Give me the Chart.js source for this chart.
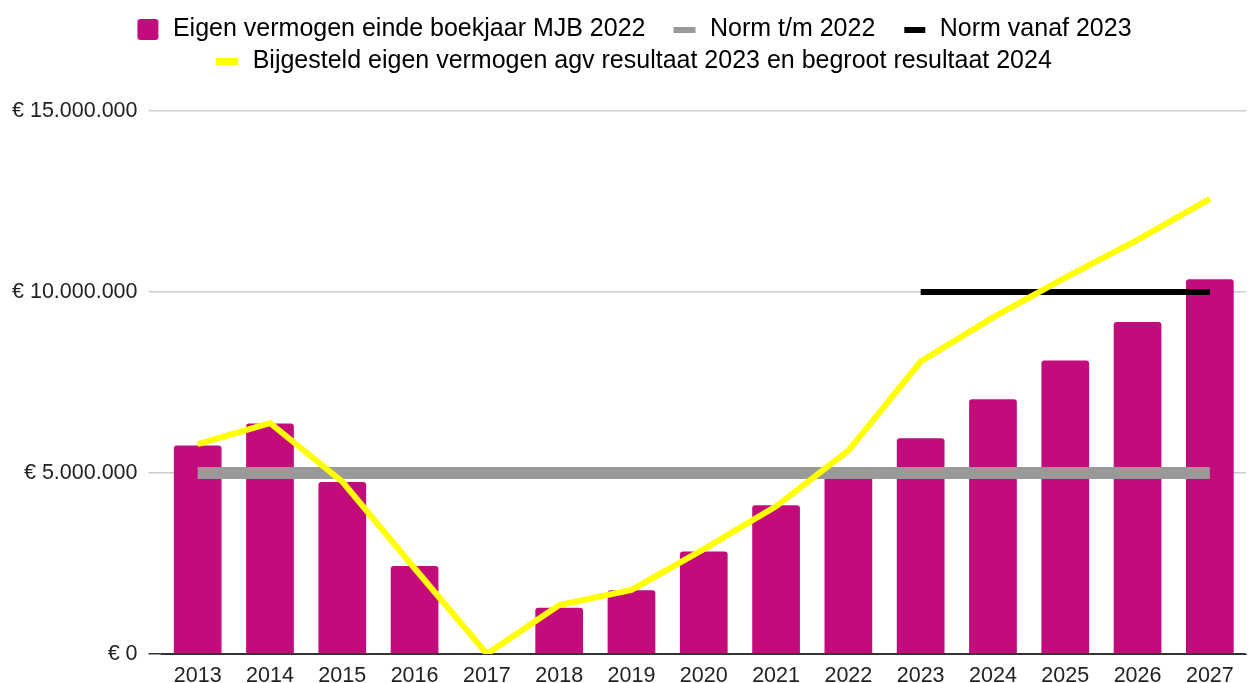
<!DOCTYPE html>
<html>
<head>
<meta charset="utf-8">
<script src="https://cdn.jsdelivr.net/npm/chart.js@4"></script>
<style>
  html, body { margin: 0; padding: 0; background: #fff; }
  #wrap { width: 1249px; height: 683px; }
</style>
</head>
<body>
<div id="wrap"><canvas id="chart"></canvas></div>
<script>
// Chart data
const years = ['2013', '2014', '2015', '2016', '2017', '2018', '2019', '2020', '2021', '2022', '2023', '2024', '2025', '2026', '2027'];
const eigenVermogen = [5760000, 6370000, 4750000, 2430000, 0, 1280000, 1760000, 2830000, 4110000, 5000000, 5960000, 7040000, 8110000, 9170000, 10350000];
const normTm2022 = [5000000, 5000000, 5000000, 5000000, 5000000, 5000000, 5000000, 5000000, 5000000, 5000000, 5000000, 5000000, 5000000, 5000000, 5000000];
const normVanaf2023 = [null, null, null, null, null, null, null, null, null, null, 10000000, 10000000, 10000000, 10000000, 10000000];
const bijgesteld = [5800000, 6380000, 4760000, 2370000, 0, 1350000, 1770000, 2900000, 4080000, 5620000, 8080000, 9300000, 10400000, 11440000, 12570000];
const yTicks = [0, 5000000, 10000000, 15000000];

const labelNames = [
  'Eigen vermogen einde boekjaar MJB 2022',
  'Norm t/m 2022',
  'Norm vanaf 2023',
  'Bijgesteld eigen vermogen agv resultaat 2023 en begroot resultaat 2024'
];

const colBar = '#c20c7c';
const colGray = '#999999';
const colBlack = '#000000';
const colYellow = '#ffff00';

// legend markers, drawn near the right side of a wide box
const BOX_W = 45;
function marker(w, h, color, r) {
  const c = document.createElement('canvas');
  c.width = BOX_W; c.height = h;
  const g = c.getContext('2d');
  g.fillStyle = color;
  g.beginPath();
  if (r) g.roundRect(BOX_W - 2 - w, 0, w, h, r); else g.rect(BOX_W - 2 - w, 0, w, h);
  g.fill();
  return c;
}
const markers = [
  marker(21, 21, colBar, 3),
  marker(22, 6, colGray),
  marker(21, 6, colBlack),
  marker(22, 7, colYellow)
];

const euro = v => '€ ' + v.toLocaleString('nl-NL');

// extra space under the legend
const legendMargin = {
  id: 'legendMargin',
  beforeInit(chart) {
    const fit = chart.legend.fit;
    chart.legend.fit = function () {
      fit.bind(chart.legend)();
      this.height += 27;
    };
  }
};

Chart.defaults.font.family = '"Liberation Sans", Arial, sans-serif';
Chart.defaults.color = '#222';

new Chart(document.getElementById('chart'), {
  data: {
    labels: years,
    datasets: [
      {
        type: 'bar',
        label: labelNames[0],
        data: eigenVermogen,
        backgroundColor: colBar,
        borderRadius: 3,
        categoryPercentage: 1,
        barPercentage: 0.66,
        order: 4
      },
      {
        type: 'line',
        label: labelNames[1],
        data: normTm2022,
        borderColor: colGray,
        backgroundColor: colGray,
        borderWidth: 12,
        pointRadius: 0,
        order: 3
      },
      {
        type: 'line',
        label: labelNames[2],
        data: normVanaf2023,
        borderColor: colBlack,
        backgroundColor: colBlack,
        borderWidth: 6,
        pointRadius: 0,
        order: 2
      },
      {
        type: 'line',
        label: labelNames[3],
        data: bijgesteld,
        borderColor: colYellow,
        backgroundColor: colYellow,
        borderWidth: 6,
        pointRadius: 0,
        tension: 0,
        order: 1
      }
    ]
  },
  options: {
    responsive: true,
    maintainAspectRatio: false,
    animation: false,
    layout: { padding: { top: 10, right: 3, left: 1, bottom: 0 } },
    plugins: {
      tooltip: { enabled: false },
      legend: {
        position: 'top',
        labels: {
          usePointStyle: true,
          pointStyleWidth: BOX_W,
          padding: 7,
          color: '#222',
          font: { size: 25 },
          generateLabels: chart => labelNames.map((name, i) => ({
            text: name,
            pointStyle: markers[i],
            fillStyle: 'transparent',
            strokeStyle: 'transparent',
            lineWidth: 0,
            hidden: false,
            datasetIndex: i
          }))
        }
      }
    },
    scales: {
      x: {
        grid: { display: false, drawTicks: false },
        border: { display: true, color: '#333' },
        ticks: { font: { size: 21.5 }, color: '#222', padding: 9, maxRotation: 0 },
        afterFit: scale => { scale.height = 29; }
      },
      y: {
        min: 0,
        max: 15000000,
        afterBuildTicks: axis => { axis.ticks = yTicks.map(v => ({ value: v })); },
        border: { display: false },
        grid: {
          color: ctx => ctx.tick && ctx.tick.value === 0 ? '#333' : '#cccccc',
          lineWidth: 1.5,
          tickLength: 13
        },
        ticks: {
          font: { size: 21.5 },
          color: '#222',
          padding: 11,
          callback: v => euro(v)
        }
      }
    }
  },
  plugins: [legendMargin]
});
</script>
</body>
</html>
